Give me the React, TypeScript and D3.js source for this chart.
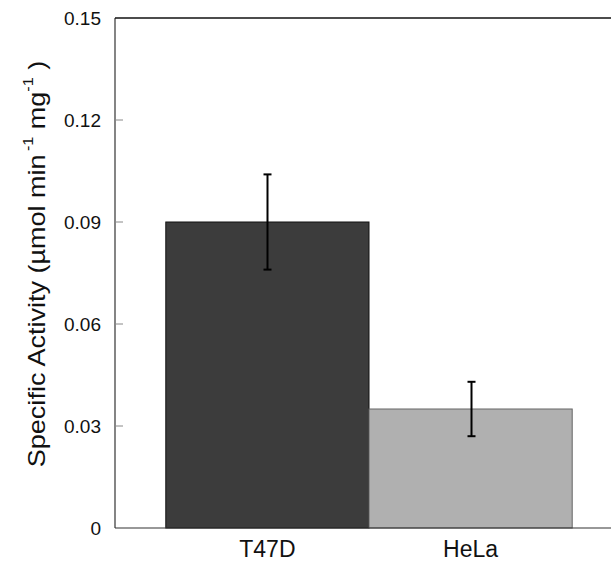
import React from "react";
import * as d3 from "d3";

const categories = ["T47D", "HeLa"];
const activity = [0.09, 0.035];
const errors = [0.014, 0.008];
const barColors = ["#3c3c3c", "#b0b0b0"];
const yTicks = [0, 0.03, 0.06, 0.09, 0.12, 0.15];

const W = 611, H = 563;
const left = 115, right = 623, top = 18, bottom = 528;

export default function App() {
  const x = d3.scaleBand<string>().domain(categories).range([left, right]).paddingInner(0).paddingOuter(0.25);
  const y = d3.scaleLinear().domain([0, 0.15]).range([bottom, top]);
  const fmt = (v: number) => (v === 0 ? "0" : d3.format(".2f")(v));

  return (
    <svg width={W} height={H} style={{ position: "absolute", left: 0, top: 0, background: "#fff" }}
      fontFamily="'Liberation Sans', Arial, sans-serif">
      {/* bars */}
      {categories.map((c, i) => (
        <rect key={c} x={x(c)} y={y(activity[i])} width={x.bandwidth()} height={bottom - y(activity[i])}
          fill={barColors[i]} stroke={i === 0 ? "#111" : "#666"} strokeWidth={1} />
      ))}
      {/* error bars */}
      {categories.map((c, i) => {
        const cx = Math.round(x(c)! + x.bandwidth() / 2) + 0.5;
        const y1 = y(activity[i] + errors[i]), y2 = y(activity[i] - errors[i]);
        return (
          <g key={c + "e"} stroke="#000" strokeWidth={2}>
            <line x1={cx} x2={cx} y1={y1} y2={y2} />
            <line x1={cx - 4} x2={cx + 4} y1={y1} y2={y1} />
            <line x1={cx - 4} x2={cx + 4} y1={y2} y2={y2} />
          </g>
        );
      })}
      {/* frame */}
      <line x1={left} x2={left} y1={top} y2={bottom} stroke="#333" strokeWidth={1.2} />
      <line x1={left} x2={W} y1={bottom} y2={bottom} stroke="#333" strokeWidth={1.2} />
      <line x1={left} x2={W} y1={top} y2={top} stroke="#111" strokeWidth={1.6} />
      {/* y ticks */}
      {yTicks.map((t) => (
        <g key={t}>
          {t !== 0 && t !== 0.15 && <line x1={left} x2={left + 8} y1={y(t)} y2={y(t)} stroke="#888" strokeWidth={1} />}
          <text x={101} y={y(t)} dy="0.36em" textAnchor="end" fontSize={19} fill="#111">{fmt(t)}</text>
        </g>
      ))}
      {/* x labels */}
      {categories.map((c) => (
        <text key={c + "l"} x={x(c)! + x.bandwidth() / 2} y={557} textAnchor="middle" fontSize={23} fill="#111">{c}</text>
      ))}
      {/* y title */}
      <text transform={`translate(45,264) rotate(-90) scale(1.15,1)`} textAnchor="middle" fontSize={23.5} fill="#111">
        Specific Activity (µmol min<tspan dx={3} dy={-12} fontSize={14}>-1</tspan><tspan dy={12}>  mg</tspan><tspan dy={-12} fontSize={14}>-1</tspan><tspan dy={12}> )</tspan>
      </text>
    </svg>
  );
}
